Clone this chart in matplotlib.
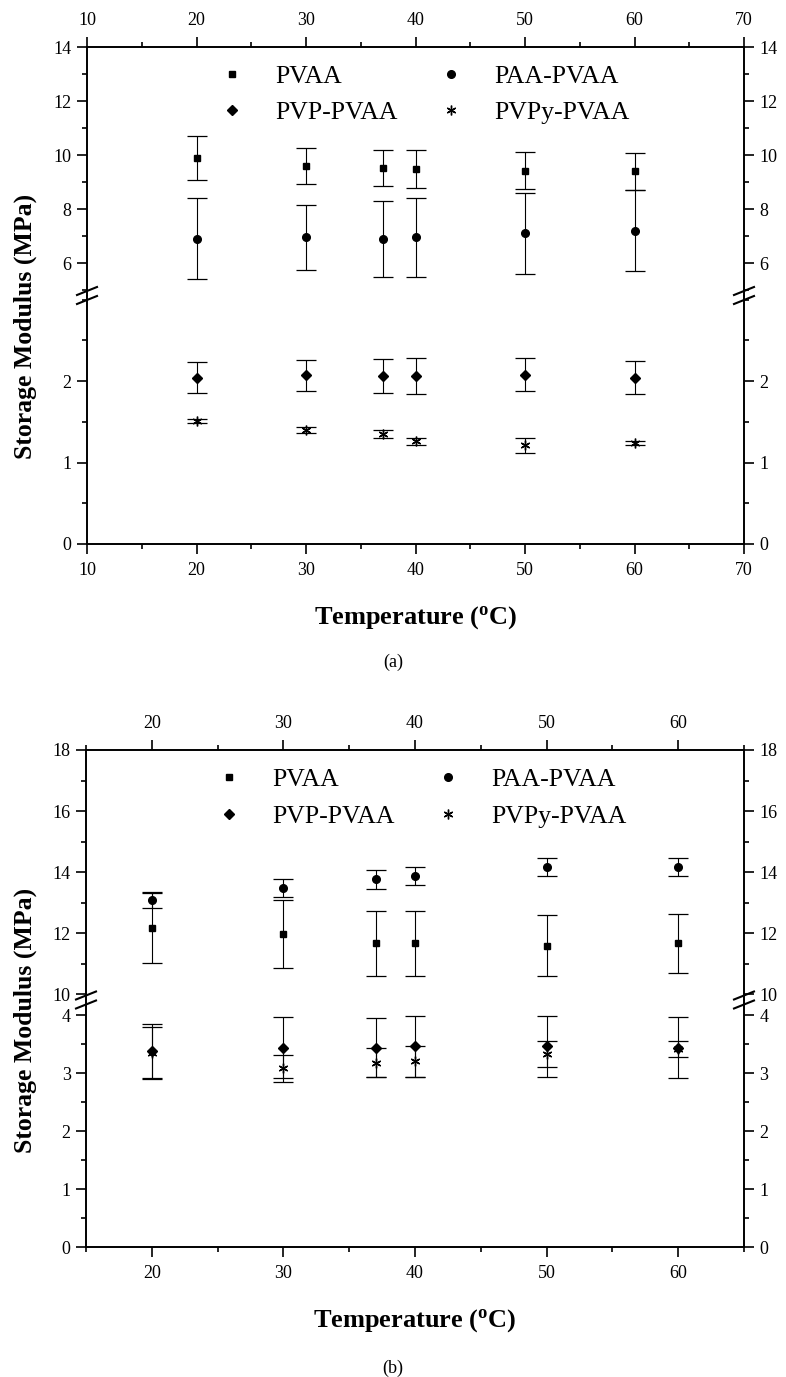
import numpy as np
import matplotlib.pyplot as plt
from matplotlib.ticker import MultipleLocator, FixedLocator
from matplotlib.lines import Line2D

plt.rcParams['font.family'] = ['Liberation Serif', 'DejaVu Serif']
plt.rcParams['mathtext.fontset'] = 'custom'
plt.rcParams['mathtext.rm'] = 'Liberation Serif'
plt.rcParams['mathtext.bf'] = 'Liberation Serif:bold'

temps = [20, 30, 37, 40, 50, 60]
labels = ['PVAA', 'PAA-PVAA', 'PVP-PVAA', 'PVPy-PVAA']

# panel (a) values, MPa
a_pvaa = [9.90, 9.59, 9.53, 9.47, 9.42, 9.40]
a_pvaa_err = [0.81, 0.68, 0.67, 0.70, 0.69, 0.68]
a_paa = [6.90, 6.96, 6.90, 6.95, 7.10, 7.20]
a_paa_err = [1.50, 1.20, 1.40, 1.45, 1.50, 1.50]
a_pvp = [2.04, 2.07, 2.06, 2.06, 2.08, 2.04]
a_pvp_err = [0.19, 0.19, 0.21, 0.22, 0.20, 0.20]
a_pvpy = [1.51, 1.40, 1.35, 1.26, 1.21, 1.24]
a_pvpy_err = [0.025, 0.035, 0.055, 0.045, 0.09, 0.025]

# panel (b) values, MPa
b_pvaa = [12.17, 11.97, 11.67, 11.67, 11.58, 11.67]
b_pvaa_err = [1.14, 1.10, 1.07, 1.07, 1.00, 0.97]
b_paa = [13.08, 13.48, 13.77, 13.87, 14.16, 14.16]
b_paa_err = [0.27, 0.30, 0.31, 0.30, 0.30, 0.29]
b_pvp = [3.38, 3.44, 3.44, 3.46, 3.46, 3.44]
b_pvp_err = [0.47, 0.52, 0.51, 0.52, 0.52, 0.52]
b_pvpy = [3.35, 3.08, 3.18, 3.20, 3.33, 3.42]
b_pvpy_err = [0.45, 0.24, 0.25, 0.26, 0.22, 0.14]

# y ranges of the two halves of each broken axis
a_upper = (4.8, 14)
a_upper_ticks = [6, 8, 10, 12, 14]
a_lower = (0, 3.05)
a_lower_ticks = [0, 1, 2]
b_upper = (9.81, 18)
b_upper_ticks = [10, 12, 14, 16, 18]
b_lower = (0, 4.26)
b_lower_ticks = [0, 1, 2, 3, 4]

W, H = 786, 1377
fig = plt.figure(figsize=(W / 100, H / 100), dpi=100)

markers = {'PVAA': dict(marker='s', ms=5),
           'PAA-PVAA': dict(marker='o', ms=5.5),
           'PVP-PVAA': dict(marker='D', ms=5),
           'PVPy-PVAA': dict(marker=(6, 2, 0), ms=7, mew=1.0)}


def px_axes(l, t, r, b):
    return fig.add_axes([l / W, 1 - b / H, (r - l) / W, (b - t) / H])


def style(ax, xlim, ylim, yticks, ymin, upper):
    ax.set_xlim(*xlim)
    ax.set_ylim(*ylim)
    ax.xaxis.set_major_locator(MultipleLocator(10))
    ax.xaxis.set_minor_locator(MultipleLocator(5))
    ax.yaxis.set_major_locator(FixedLocator(yticks))
    ax.yaxis.set_minor_locator(MultipleLocator(ymin))
    for s in ax.spines.values():
        s.set_linewidth(1.4)
    if upper:
        ax.spines['bottom'].set_visible(False)
        ax.tick_params(axis='x', which='both', top=True, labeltop=True,
                       bottom=False, labelbottom=False)
    else:
        ax.spines['top'].set_visible(False)
        ax.tick_params(axis='x', which='both', top=False, bottom=True)
    ax.tick_params(axis='y', which='both', left=True, right=True, labelright=True)
    ax.tick_params(which='both', direction='out', labelsize=13, width=1.2)
    ax.tick_params(which='major', length=7)
    ax.tick_params(which='minor', length=3.6)
    ax.tick_params(axis='x', pad=6)
    ax.tick_params(axis='y', pad=4)


def series(ax, y, err, name):
    ax.errorbar(temps, y, yerr=err, fmt='none', ecolor='black',
                elinewidth=0.8, capsize=7, capthick=0.9, clip_on=False)
    ax.plot(temps, y, ls='none', color='black', **markers[name])


def breaks(x_list, yc):
    # the "//" marks sitting on both spines at the break
    for x in x_list:
        for off in (-4.5, 4.5):
            xs = [(x - 10) / W, (x + 10) / W]
            ys = [1 - (yc + off + 4) / H, 1 - (yc + off - 4) / H]
            fig.add_artist(Line2D(xs, ys, color='black', lw=1.5,
                                  transform=fig.transFigure))


def legend(ax, cx, cy):
    handles = [Line2D([], [], ls='none', color='black', **markers[n]) for n in labels]
    order = [0, 2, 1, 3]
    ax.legend([handles[i] for i in order], [labels[i] for i in order],
              ncol=2, loc='center', bbox_to_anchor=(cx / W, 1 - cy / H),
              bbox_transform=fig.transFigure, borderpad=0, borderaxespad=0,
              frameon=False, fontsize=18.5, handlelength=2.0,
              handletextpad=0.7, columnspacing=1.05, labelspacing=0.54)


def panel(left, right, top, brk, bottom, xlim, up, up_ticks, lo, lo_ticks,
          up_minor, up_data, lo_data, leg_xy, xlab_y, tag_y, tag, ylab_y):
    ax_u = px_axes(left, top, right, brk)
    ax_l = px_axes(left, brk, right, bottom)
    style(ax_u, xlim, up, up_ticks, up_minor, True)
    style(ax_l, xlim, lo, lo_ticks, 0.5, False)
    for y, e, n in up_data:
        series(ax_u, y, e, n)
    for y, e, n in lo_data:
        series(ax_l, y, e, n)
    legend(ax_u, *leg_xy)
    breaks([left, right], brk)
    xc = (left + right) / 2 / W
    fig.text(xc, 1 - xlab_y / H, r'Temperature ($\mathregular{^o}$C)',
             ha='center', va='center', fontsize=19, fontweight='bold')
    fig.text(393 / W, 1 - tag_y / H, tag, ha='center', va='center', fontsize=13)
    fig.text(25 / W, 1 - ylab_y / H, 'Storage Modulus (MPa)', rotation=90,
             ha='center', va='center', fontsize=18.5, fontweight='bold')


panel(87, 744, 47, 295.5, 544, (10, 70),
      a_upper, a_upper_ticks, a_lower, a_lower_ticks, 1,
      [(a_pvaa, a_pvaa_err, 'PVAA'), (a_paa, a_paa_err, 'PAA-PVAA')],
      [(a_pvp, a_pvp_err, 'PVP-PVAA'), (a_pvpy, a_pvpy_err, 'PVPy-PVAA')],
      (418, 94.5), 618, 662, '(a)', 326)

panel(86, 744, 750, 1000, 1247, (15, 65),
      b_upper, b_upper_ticks, b_lower, b_lower_ticks, 1,
      [(b_pvaa, b_pvaa_err, 'PVAA'), (b_paa, b_paa_err, 'PAA-PVAA')],
      [(b_pvp, b_pvp_err, 'PVP-PVAA'), (b_pvpy, b_pvpy_err, 'PVPy-PVAA')],
      (415, 798), 1321, 1368, '(b)', 1020)

fig.savefig('out.png', dpi=100)
